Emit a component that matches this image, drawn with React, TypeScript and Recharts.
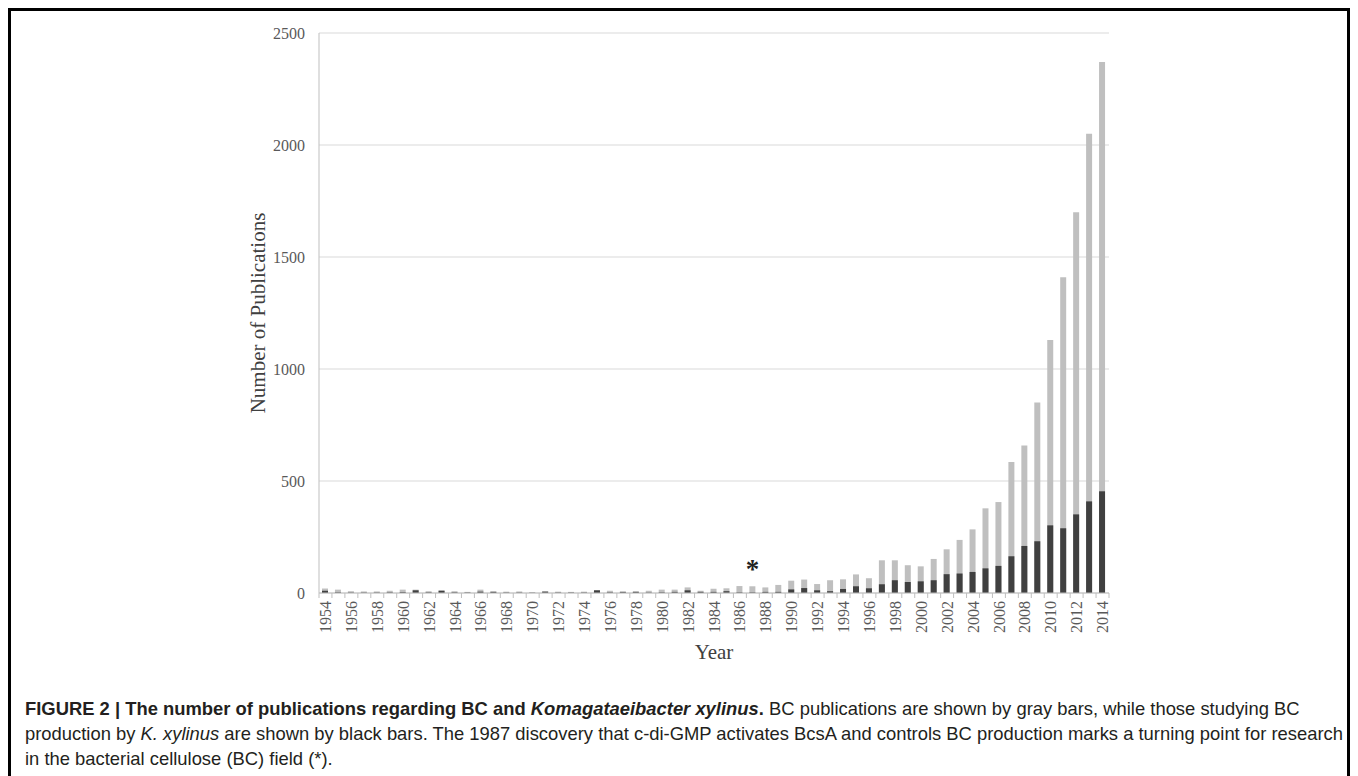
import { Bar, BarChart, CartesianGrid, LabelList, XAxis, YAxis } from "recharts"

const YEARS = [
  "1954", "1955", "1956", "1957", "1958", "1959", "1960", "1961", "1962", "1963",
  "1964", "1965", "1966", "1967", "1968", "1969", "1970", "1971", "1972", "1973",
  "1974", "1975", "1976", "1977", "1978", "1979", "1980", "1981", "1982", "1983",
  "1984", "1985", "1986", "1987", "1988", "1989", "1990", "1991", "1992", "1993",
  "1994", "1995", "1996", "1997", "1998", "1999", "2000", "2001", "2002", "2003",
  "2004", "2005", "2006", "2007", "2008", "2009", "2010", "2011", "2012", "2013",
  "2014",
]

// all BC publications (gray)
const BC_TOTAL = [
  20, 15, 8, 7, 7, 10, 15, 15, 8, 12,
  8, 5, 15, 8, 6, 7, 4, 8, 6, 5,
  6, 12, 10, 8, 8, 10, 15, 15, 25, 10,
  19, 21, 31, 30, 25, 36, 55, 60, 40, 57,
  61, 83, 66, 146, 146, 124, 119, 152, 195, 237,
  284, 378, 406, 585, 658, 851, 1130, 1410, 1700, 2050,
  2370,
]

// BC production by K. xylinus (black)
const KX = [
  10, 3, 2, 2, 2, 3, 4, 12, 3, 10,
  3, 2, 6, 5, 2, 2, 1, 6, 2, 2,
  2, 12, 3, 4, 5, 2, 3, 5, 12, 5,
  5, 8, 3, 3, 5, 5, 16, 22, 12, 8,
  18, 30, 21, 39, 57, 49, 52, 57, 84, 87,
  94, 110, 121, 164, 210, 231, 302, 289, 351, 409,
  454,
]

const Y_TICKS = [0, 500, 1000, 1500, 2000, 2500]
const MARKED_YEAR = "1987"

const data = YEARS.map((year, i) => ({ year, total: BC_TOTAL[i], kx: KX[i] }))

const SERIF = '"Liberation Serif", "Times New Roman", serif'

function YearTick(props: any) {
  const { x, y, payload, index } = props
  const half = payload?.offset ?? 6.475
  const ty = y + 8
  return (
    <g>
      <line x1={x - half} x2={x - half} y1={y} y2={y + 5} stroke="#bfbfbf" />
      {index === YEARS.length - 1 && (
        <line x1={x + half} x2={x + half} y1={y} y2={y + 5} stroke="#bfbfbf" />
      )}
      {index % 2 === 0 && (
        <text
          x={x}
          y={ty}
          dy="0.35em"
          transform={`rotate(-90 ${x} ${ty})`}
          textAnchor="end"
          fill="#595959"
          fontSize={16}
          fontFamily={SERIF}
        >
          {payload.value}
        </text>
      )}
    </g>
  )
}

function Asterisk(props: any) {
  const { x, y, width, index } = props
  if (YEARS[index] !== MARKED_YEAR) return null
  return (
    <text x={x + width / 2} y={y - 8} textAnchor="middle" fontSize={27} fontWeight={700} fontFamily={SERIF} fill="#222">
      *
    </text>
  )
}

export default function App() {
  return (
    <div style={{ border: "3px solid #000", height: 800, boxSizing: "border-box" }}>
      <BarChart
        width={1336}
        height={680}
        data={data}
        barGap={-6}
        margin={{ top: 22, right: 238, bottom: 32, left: 228 }}
      >
        <CartesianGrid vertical={false} stroke="#d9d9d9" />
        <XAxis
          dataKey="year"
          interval={0}
          height={66}
          tickSize={0}
          tickMargin={0}
          tickLine={false}
          axisLine={{ stroke: "#bfbfbf" }}
          tick={<YearTick />}
          label={{ value: "Year", position: "insideBottom", offset: 0, fill: "#404040", fontSize: 21, fontFamily: SERIF }}
        />
        <YAxis
          width={80}
          domain={[0, 2500]}
          ticks={Y_TICKS}
          tickLine={false}
          tickMargin={8}
          axisLine={{ stroke: "#bfbfbf" }}
          tick={{ fill: "#595959", fontSize: 16, fontFamily: SERIF }}
          label={{
            value: "Number of Publications",
            angle: -90,
            position: "center",
            dx: -21,
            fill: "#404040",
            fontSize: 21,
            fontFamily: SERIF,
          }}
        />
        <Bar dataKey="total" fill="#bfbfbf" barSize={6} isAnimationActive={false}>
          <LabelList dataKey="total" content={<Asterisk />} />
        </Bar>
        <Bar dataKey="kx" fill="#404040" barSize={6} isAnimationActive={false} />
      </BarChart>
      <div
        style={{
          marginTop: 5,
          paddingLeft: 14,
          fontFamily: '"Liberation Sans", Arial, sans-serif',
          fontSize: 18.4,
          lineHeight: "25px",
          color: "#231f20",
          whiteSpace: "nowrap",
        }}
      >
        <div>
          <b>
            FIGURE 2 | The number of publications regarding BC and <i>Komagataeibacter xylinus</i>.
          </b>{" "}
          BC publications are shown by gray bars, while those studying BC
        </div>
        <div>
          production by <i>K. xylinus</i> are shown by black bars. The 1987 discovery that c-di-GMP activates BcsA and
          controls BC production marks a turning point for research
        </div>
        <div>in the bacterial cellulose (BC) field (*).</div>
      </div>
    </div>
  )
}
